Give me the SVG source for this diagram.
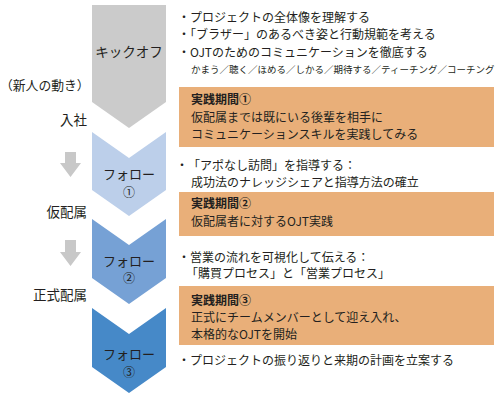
<svg xmlns="http://www.w3.org/2000/svg" width="500" height="400" viewBox="0 0 500 400">
<style>
text{font-family:"Noto Sans CJK JP","Noto Sans",sans-serif;fill:#231f20;}
.t{font-size:12px;}
.s{font-size:9.5px;}
.b{font-size:12px;font-weight:bold;}
.lbl{font-size:13px;text-anchor:middle;}
.num{font-size:12px;text-anchor:middle;}
.side{font-size:13.5px;text-anchor:end;}
.box{fill:#E9AF79;}
.arr{fill:#C8C8C8;}
</style>
<rect width="500" height="400" fill="#fff"/>
<g id="stage-kickoff">
<polygon points="92,5 166,5 166,102 129,128 92,102" fill="#CBCBCB"/>
<text x="129" y="57" style="font-size:13.5px;text-anchor:middle">キックオフ</text>
</g>
<g id="stage-follow1">
<polygon points="92,132 129,158 166,132 166,190 129,216 92,190" fill="#BCCFEA"/>
<text class="lbl" x="129" y="179">フォロー</text>
<text class="num" x="129" y="197">①</text>
</g>
<g id="stage-follow2">
<polygon points="92,219 129,245 166,219 166,278 129,304 92,278" fill="#76A1D5"/>
<text class="lbl" x="129" y="266">フォロー</text>
<text class="num" x="129" y="283">②</text>
</g>
<g id="stage-follow3">
<polygon points="92,308 129,334 166,308 166,367 129,393 92,367" fill="#4689C8"/>
<text class="lbl" x="129" y="359">フォロー</text>
<text class="num" x="129" y="377">③</text>
</g>
<g id="side-labels">
<text x="0" y="90" style="font-size:12.8px">（新人の動き）</text>
<text class="side" x="87" y="125">入社</text>
<text class="side" x="87" y="217">仮配属</text>
<text class="side" x="87" y="300">正式配属</text>
</g>
<g id="connectors">
<polygon class="arr" points="65,152 76,152 76,163 81,163 70.5,177 60,163 65,163"/>
<polygon class="arr" points="65,240 76,240 76,252 81,252 70.5,266 60,252 65,252"/>
</g>
<g id="notes-kickoff">
<text class="t" x="178" y="21.5">・プロジェクトの全体像を理解する</text>
<text class="t" x="178" y="38.5">・「ブラザー」のあるべき姿と行動規範を考える</text>
<text class="t" x="178" y="56.5">・OJTのためのコミュニケーションを徹底する</text>
<text class="s" x="191" y="73">かまう／聴く／ほめる／しかる／期待する／ティーチング／コーチング</text>
</g>
<g id="practice1">
<rect class="box" x="179" y="87" width="315" height="60"/>
<text class="b" x="191" y="103.5">実践期間①</text>
<text class="t" x="191" y="121.5">仮配属までは既にいる後輩を相手に</text>
<text class="t" x="191" y="138.5">コミュニケーションスキルを実践してみる</text>
</g>
<g id="notes-follow1">
<text class="t" x="176" y="169.5">・</text>
<text class="t" x="188" y="169.5">「アポなし訪問」を指導する：</text>
<text class="t" x="191" y="186.5">成功法のナレッジシェアと指導方法の確立</text>
</g>
<g id="practice2">
<rect class="box" x="179" y="192" width="315" height="44"/>
<text class="b" x="191" y="207.5">実践期間②</text>
<text class="t" x="191" y="225.5">仮配属者に対するOJT実践</text>
</g>
<g id="notes-follow2">
<text class="t" x="178" y="261.5">・営業の流れを可視化して伝える：</text>
<text class="t" x="186" y="277.5">「購買プロセス」と「営業プロセス」</text>
</g>
<g id="practice3">
<rect class="box" x="179" y="286" width="315" height="59"/>
<text class="b" x="191" y="304.5">実践期間③</text>
<text class="t" x="191" y="321.5">正式にチームメンバーとして迎え入れ、</text>
<text class="t" x="191" y="338.5">本格的なOJTを開始</text>
</g>
<g id="notes-follow3">
<text class="t" x="178" y="364.5">・プロジェクトの振り返りと来期の計画を立案する</text>
</g>
</svg>
